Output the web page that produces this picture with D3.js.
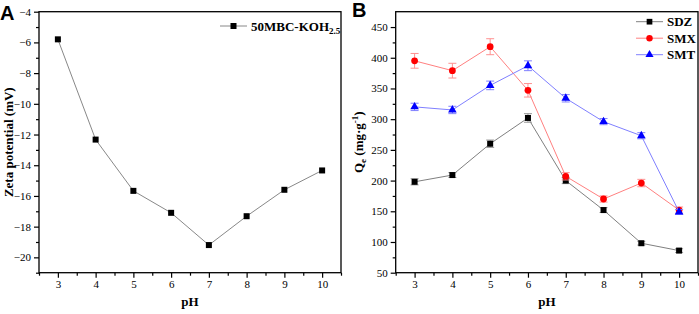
<!DOCTYPE html>
<html>
<head>
<meta charset="utf-8">
<script src="https://cdn.jsdelivr.net/npm/d3@7"></script>
<style>
body { margin: 0; background: #fff; }
text { font-family: "Liberation Serif", "Times New Roman", serif; }
.tick text { font-size: 11px; }
.axis-title { font-size: 13px; font-weight: bold; }
.panel-label { font-family: "Liberation Sans", Arial, sans-serif; font-size: 20px; font-weight: bold; }
.legend text { font-size: 13px; font-weight: bold; }
</style>
</head>
<body>
<svg id="chart" width="699" height="314"></svg>
<script>
// Panel A: zeta potential
var phValues = [3, 4, 5, 6, 7, 8, 9, 10];
var zetaValues = [-5.8, -12.33, -15.67, -17.1, -19.2, -17.32, -15.6, -14.34];
var zetaTicks = [-20, -18, -16, -14, -12, -10, -8, -6, -4];

// Panel B: adsorption capacity
var seriesNames = ['SDZ', 'SMX', 'SMT'];
var sdzValues = [198, 209, 260, 302, 200, 152, 98, 86];
var sdzErrors = [5, 4, 6, 7, 5, 4, 3, 3];
var smxValues = [395, 379, 418, 347, 207, 170, 196, 152];
var smxErrors = [12, 12, 13, 11, 6, 5, 6, 5];
var smtValues = [320, 315, 355, 387, 334, 296, 273, 149];
var smtErrors = [6, 6, 7, 8, 6, 5, 5, 4];
var qeTicks = [50, 100, 150, 200, 250, 300, 350, 400, 450];

var svg = d3.select('#chart');

function drawFrame(g, x, y, yTicks, yMinor) {
    var xr = x.range(), yr = y.range();

    var xAxis = d3.axisBottom(x).tickValues(phValues).tickSize(5).tickPadding(3);
    var xMinor = d3.axisBottom(x).tickValues(d3.range(2.5, 10.6, 0.5).filter(function(v) {
        return v % 1 !== 0;
    })).tickSize(3).tickFormat('');
    var yAxis = d3.axisLeft(y).tickValues(yTicks).tickSize(5).tickPadding(3);
    var yMinorAxis = d3.axisLeft(y).tickValues(yMinor).tickSize(3).tickFormat('');

    g.append('g').attr('transform', 'translate(0,' + yr[0] + ')').call(xMinor);
    g.append('g').attr('transform', 'translate(0,' + yr[0] + ')').call(xAxis);
    g.append('g').attr('transform', 'translate(' + xr[0] + ',0)').call(yMinorAxis);
    g.append('g').attr('transform', 'translate(' + xr[0] + ',0)').call(yAxis);

    g.selectAll('.domain').remove();
    g.selectAll('.tick line').attr('stroke', '#000').attr('stroke-width', 1.2);
    g.selectAll('.tick text').attr('fill', '#000');

    g.append('rect')
        .attr('x', xr[0]).attr('y', yr[1])
        .attr('width', xr[1] - xr[0]).attr('height', yr[0] - yr[1])
        .attr('fill', 'none').attr('stroke', '#000').attr('stroke-width', 1.3);
}

/* Panel A */
var xA = d3.scaleLinear().domain([2.5, 10.5]).range([39, 341]);
var yA = d3.scaleLinear().domain([-21, -4]).range([272.7, 11.7]);
var gA = svg.append('g');
drawFrame(gA, xA, yA, zetaTicks, d3.range(-21, -4, 1).filter(function(v) { return v % 2 !== 0; }));

var zetaData = phValues.map(function(p, i) { return { ph: p, value: zetaValues[i] }; });
gA.append('path')
    .datum(zetaData)
    .attr('fill', 'none')
    .attr('stroke', '#888')
    .attr('stroke-width', 1)
    .attr('d', d3.line().x(function(d) { return xA(d.ph); }).y(function(d) { return yA(d.value); }));
gA.selectAll('.pt')
    .data(zetaData)
    .join('rect')
    .attr('x', function(d) { return xA(d.ph) - 3; })
    .attr('y', function(d) { return yA(d.value) - 3; })
    .attr('width', 6).attr('height', 6)
    .attr('fill', '#000');

gA.append('text').attr('class', 'panel-label').attr('x', 0).attr('y', 20).text('A');
gA.append('text').attr('class', 'axis-title').attr('text-anchor', 'middle')
    .attr('x', (39 + 341) / 2).attr('y', 306).text('pH');
gA.append('text').attr('class', 'axis-title').attr('text-anchor', 'middle')
    .attr('transform', 'translate(13,' + (11.7 + 272.7) / 2 + ') rotate(-90)')
    .text('Zeta potential (mV)');

var legA = gA.append('g').attr('class', 'legend').attr('transform', 'translate(220,26)');
legA.append('line').attr('x1', 0).attr('x2', 27).attr('stroke', '#888');
legA.append('rect').attr('x', 10.5).attr('y', -3).attr('width', 6).attr('height', 6).attr('fill', '#000');
var legAText = legA.append('text').attr('x', 31).attr('y', 4.5);
legAText.append('tspan').text('50MBC-KOH');
legAText.append('tspan').attr('dy', 3).style('font-size', '9px').text('2.5');

/* Panel B */
var xB = d3.scaleLinear().domain([2.5, 10.5]).range([395.7, 698]);
var yB = d3.scaleLinear().domain([50, 475]).range([272.7, 11.7]);
var gB = svg.append('g');
drawFrame(gB, xB, yB, qeTicks, d3.range(75, 475, 50));

var series = [
    { name: 'SDZ', values: sdzValues, errors: sdzErrors, line: '#808080', fill: '#000', errColor: '#999', shape: d3.symbolSquare, size: 36 },
    { name: 'SMX', values: smxValues, errors: smxErrors, line: '#ff8080', fill: '#ff0000', errColor: '#ff9090', shape: d3.symbolCircle, size: 36 },
    { name: 'SMT', values: smtValues, errors: smtErrors, line: '#8080ff', fill: '#0000ff', errColor: '#8080ff', shape: d3.symbolTriangle, size: 32 }
];

var lineB = d3.line().x(function(d) { return xB(d.ph); }).y(function(d) { return yB(d.value); });

series.forEach(function(s) {
    var data = phValues.map(function(p, i) { return { ph: p, value: s.values[i], err: s.errors[i] }; });
    var g = gB.append('g');

    g.append('path').datum(data)
        .attr('fill', 'none').attr('stroke', s.line).attr('stroke-width', 1)
        .attr('d', lineB);

    var eb = g.selectAll('.err').data(data).join('g').attr('stroke', s.errColor).attr('stroke-width', 1);
    eb.append('line')
        .attr('x1', function(d) { return xB(d.ph); }).attr('x2', function(d) { return xB(d.ph); })
        .attr('y1', function(d) { return yB(d.value - d.err); }).attr('y2', function(d) { return yB(d.value + d.err); });
    eb.append('line')
        .attr('x1', function(d) { return xB(d.ph) - 4; }).attr('x2', function(d) { return xB(d.ph) + 4; })
        .attr('y1', function(d) { return yB(d.value + d.err); }).attr('y2', function(d) { return yB(d.value + d.err); });
    eb.append('line')
        .attr('x1', function(d) { return xB(d.ph) - 4; }).attr('x2', function(d) { return xB(d.ph) + 4; })
        .attr('y1', function(d) { return yB(d.value - d.err); }).attr('y2', function(d) { return yB(d.value - d.err); });

    g.selectAll('.mk').data(data).join('path')
        .attr('transform', function(d) { return 'translate(' + xB(d.ph) + ',' + yB(d.value) + ')'; })
        .attr('d', d3.symbol().type(s.shape).size(s.size))
        .attr('fill', s.fill);
});

gB.append('text').attr('class', 'panel-label').attr('x', 352).attr('y', 17).text('B');
gB.append('text').attr('class', 'axis-title').attr('text-anchor', 'middle')
    .attr('x', (395.7 + 698) / 2).attr('y', 306).text('pH');
var qTitle = gB.append('text').attr('class', 'axis-title').attr('text-anchor', 'middle')
    .attr('transform', 'translate(363,' + (11.7 + 272.7) / 2 + ') rotate(-90)');
qTitle.append('tspan').text('Q');
qTitle.append('tspan').attr('dy', 3).style('font-size', '9px').text('e');
qTitle.append('tspan').attr('dy', -3).text(' (mg·g');
qTitle.append('tspan').attr('dy', -5).style('font-size', '9px').text('-1');
qTitle.append('tspan').attr('dy', 5).text(')');

var legB = gB.append('g').attr('class', 'legend')
    .selectAll('g').data(series).join('g')
    .attr('transform', function(d, i) { return 'translate(636,' + (21.7 + i * 16.5) + ')'; });
legB.append('line').attr('x1', 0).attr('x2', 27).attr('stroke', function(d) { return d.line; });
legB.append('path')
    .attr('transform', 'translate(13.5,0)')
    .attr('d', function(d) { return d3.symbol().type(d.shape).size(d.size * 0.9)(); })
    .attr('fill', function(d) { return d.fill; });
legB.append('text').attr('x', 31).attr('y', 4.5).text(function(d) { return d.name; });
</script>
</body>
</html>
